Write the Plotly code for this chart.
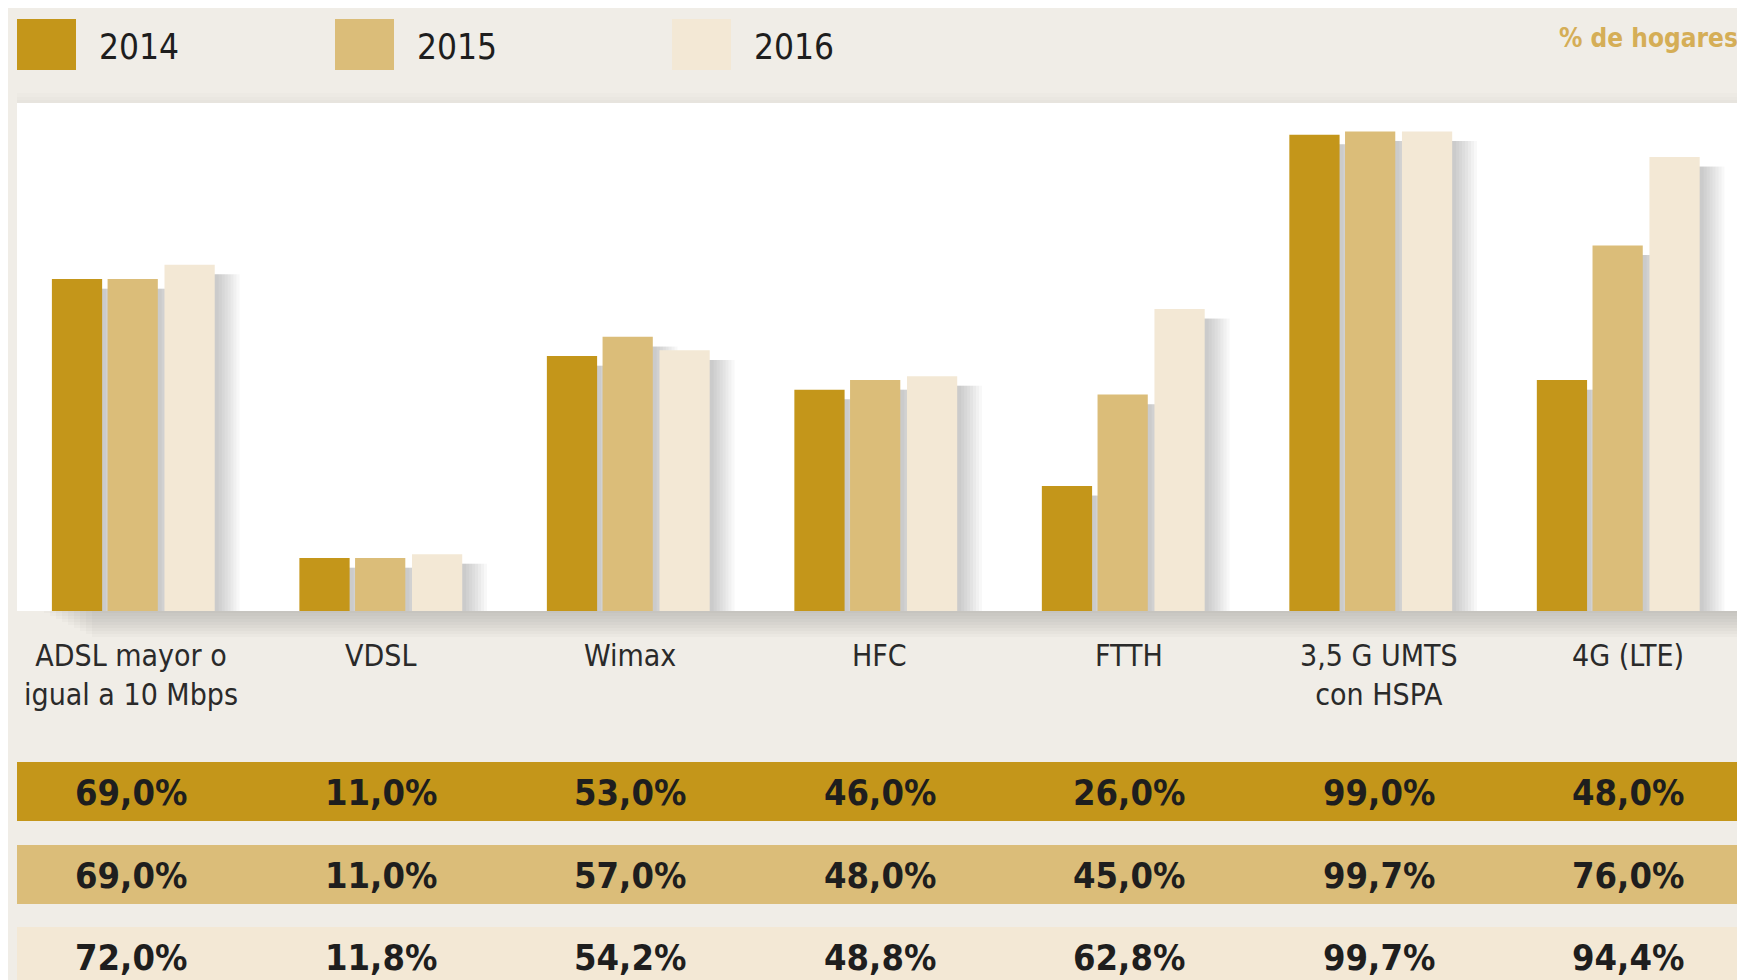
import plotly.graph_objects as go

categories = ["ADSL", "VDSL", "Wimax", "HFC", "FTTH", "3,5G", "4G"]
category_labels = ["ADSL mayor o<br>igual a 10 Mbps", "VDSL", "Wimax", "HFC", "FTTH",
                   "3,5 G UMTS<br>con HSPA", "4G (LTE)"]
years = ["2014", "2015", "2016"]
values_2014 = [69.0, 11.0, 53.0, 46.0, 26.0, 99.0, 48.0]
values_2015 = [69.0, 11.0, 57.0, 48.0, 45.0, 99.7, 76.0]
values_2016 = [72.0, 11.8, 54.2, 48.8, 62.8, 99.7, 94.4]
series = [values_2014, values_2015, values_2016]

colors = ["#C4961A", "#DBBD79", "#F3E8D5"]
BG = "#F0EDE7"
FONT = "Liberation Sans Narrow, DejaVu Sans Condensed, Lato, sans-serif"

# the page adds an 8px body margin, so the figure is a bit smaller and
# every screen position below is shifted back by that margin
OFF = 8
W, H = 1745 - OFF, 980 - OFF


def px_x(x):
    return (x - OFF) / W


def px_y(y):
    return 1 - (y - OFF) / H


# bar geometry in category units
bar_w = 0.203
offsets = [-0.329, -0.104, 0.126]

fig = go.Figure()

# soft shadows to the right of every bar (many faint layers -> smooth fade)
shadow_steps = [0.1, 0.088, 0.076, 0.064, 0.052, 0.04, 0.028, 0.016]
for vals, off in zip(series, offsets):
    for shift in shadow_steps:
        fig.add_trace(go.Bar(x=categories, y=[v - 2 for v in vals], width=bar_w,
                             offset=off + shift, marker_color="rgba(60,60,60,0.035)",
                             marker_line_width=0, hoverinfo="skip", showlegend=False))

for vals, off, yr, col in zip(series, offsets, years, colors):
    fig.add_trace(go.Bar(x=categories, y=vals, width=bar_w, offset=off, name=yr,
                         marker_color=col, marker_line_width=0, showlegend=False))

shapes = []
annotations = []

# shadow under the plot area
for k in range(26, 0, -3):
    shapes.append(dict(type="rect", xref="paper", yref="paper",
                       x0=px_x(40 + k * 2), x1=px_x(1740), y0=px_y(611 + k), y1=px_y(611),
                       fillcolor="rgba(40,40,40,0.025)", line_width=0, layer="below"))
# faint shade above the plot area
for k in (10, 6, 3):
    shapes.append(dict(type="rect", xref="paper", yref="paper",
                       x0=px_x(17), x1=px_x(1742), y0=px_y(103), y1=px_y(103 - k),
                       fillcolor="rgba(40,40,40,0.012)", line_width=0, layer="below"))

# legend
legend_x = [17, 335, 672]
for yr, col, lx in zip(years, colors, legend_x):
    shapes.append(dict(type="rect", xref="paper", yref="paper",
                       x0=px_x(lx), x1=px_x(lx + 59), y0=px_y(70), y1=px_y(19),
                       fillcolor=col, line_width=0))
    annotations.append(dict(xref="paper", yref="paper", x=px_x(lx + 80), y=px_y(47),
                            text=yr, showarrow=False, xanchor="left", yanchor="middle",
                            font=dict(family=FONT, size=35, color="#1e1e1e")))

annotations.append(dict(xref="paper", yref="paper", x=px_x(1740), y=px_y(38),
                        text="<b>% de hogares</b>", showarrow=False, xanchor="right",
                        yanchor="middle", font=dict(family=FONT, size=26, color="#D5AE57")))

# category labels (the printed labels drift slightly right of the bar groups)
for i, (cat, lab) in enumerate(zip(categories, category_labels)):
    annotations.append(dict(xref="x", yref="paper", x=cat, y=px_y(636), text=lab,
                            xshift=2 * i - 2, showarrow=False, xanchor="center",
                            yanchor="top",
                            font=dict(family=FONT, size=30, color="#2a2a2a")))

# value table
row_tops = [762, 845, 927]
for vals, col, top in zip(series, colors, row_tops):
    shapes.append(dict(type="rect", xref="paper", yref="paper",
                       x0=px_x(17), x1=px_x(1742), y0=px_y(top + 59), y1=px_y(top),
                       fillcolor=col, line_width=0, layer="below"))
    for i, (cat, v) in enumerate(zip(categories, vals)):
        annotations.append(dict(xref="x", yref="paper", x=cat, y=px_y(top + 30),
                                text="<b>%s%%</b>" % ("%.1f" % v).replace(".", ","),
                                xshift=2 * i - 2, showarrow=False, xanchor="center",
                                yanchor="middle",
                                font=dict(family=FONT, size=36, color="#1e1e1e")))

fig.update_layout(
    width=W, height=H,
    margin=dict(l=0, r=0, t=0, b=0),
    paper_bgcolor=BG, plot_bgcolor="white",
    barmode="overlay",
    showlegend=False,
    shapes=shapes,
    annotations=annotations,
    xaxis=dict(domain=[px_x(17), px_x(1742)], range=[-0.47, 6.5], showticklabels=False,
               showgrid=False, zeroline=False, fixedrange=True),
    yaxis=dict(domain=[px_y(611), px_y(103)], range=[0, 105.6], visible=False,
               fixedrange=True),
)

fig.write_html("out.html")
